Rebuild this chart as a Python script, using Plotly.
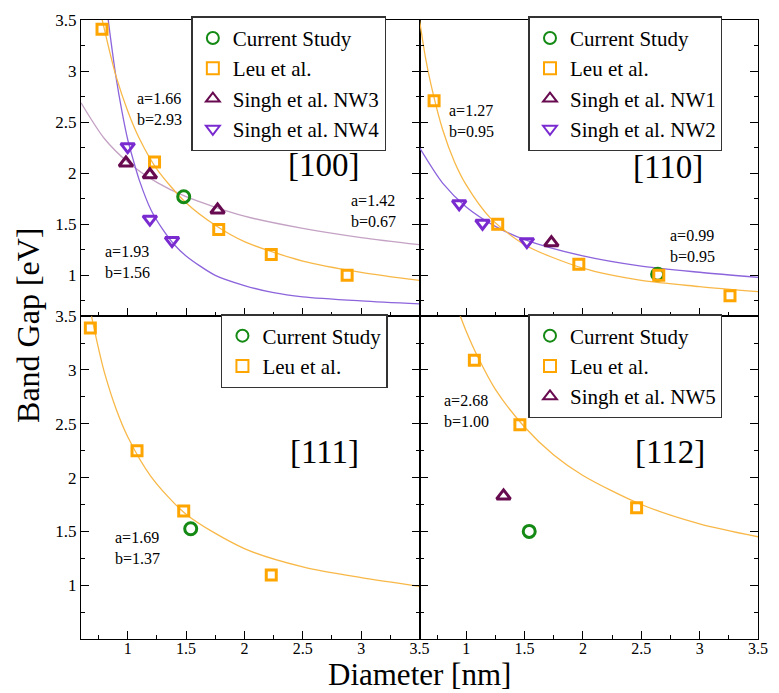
import plotly.graph_objects as go

# ---------------- data ----------------
# [100]
cur100_d = [1.48]
cur100_e = [1.77]
leu100_d = [0.78, 1.23, 1.78, 2.23, 2.88]
leu100_e = [3.41, 2.11, 1.45, 1.205, 1.00]
nw3_d = [0.985, 1.19, 1.77]
nw3_e = [2.10, 1.985, 1.64]
nw4_d = [1.00, 1.19, 1.38]
nw4_e = [2.26, 1.55, 1.34]
fit100_leu_d = [0.78, 0.85, 0.9, 1.0, 1.1, 1.25, 1.5, 1.75, 2.0, 2.5, 3.0, 3.5]
fit100_leu_e = [3.51, 3.17, 2.95, 2.61, 2.34, 2.04, 1.71, 1.49, 1.33, 1.14, 1.03, 0.95]
fit100_nw3_d = [0.6, 0.8, 1.0, 1.25, 1.5, 2.0, 2.5, 3.0, 3.5]
fit100_nw3_e = [2.69, 2.34, 2.11, 1.91, 1.77, 1.58, 1.46, 1.37, 1.30]
fit100_nw4_d = [0.83, 0.85, 0.9, 0.95, 1.0, 1.05, 1.1, 1.2, 1.3, 1.4, 1.5, 1.75, 2.0, 2.25, 2.5, 3.0, 3.5]
fit100_nw4_e = [3.53, 3.35, 2.94, 2.61, 2.33, 2.12, 1.93, 1.64, 1.45, 1.30, 1.19, 1.00, 0.90, 0.83, 0.79, 0.75, 0.72]

# [110]
cur110_d = [2.64]
cur110_e = [1.01]
leu110_d = [0.725, 1.27, 1.965, 2.65, 3.26]
leu110_e = [2.71, 1.50, 1.108, 1.00, 0.80]
nw1_d = [1.73]
nw1_e = [1.32]
nw2_d = [0.94, 1.14, 1.52]
nw2_e = [1.70, 1.51, 1.33]
fit110_leu_d = [0.6, 0.65, 0.7, 0.8, 0.9, 1.0, 1.2, 1.5, 2.0, 2.5, 3.0, 3.5]
fit110_leu_e = [3.50, 3.14, 2.86, 2.42, 2.11, 1.885, 1.57, 1.30, 1.07, 0.95, 0.89, 0.84]
fit110_nw_d = [0.6, 0.8, 1.0, 1.25, 1.5, 2.0, 2.5, 3.0, 3.5]
fit110_nw_e = [2.25, 1.90, 1.67, 1.48, 1.35, 1.19, 1.09, 1.03, 0.98]

# [111]
cur111_d = [1.54]
cur111_e = [1.525]
leu111_d = [0.68, 1.08, 1.48, 2.23]
leu111_e = [3.39, 2.25, 1.69, 1.095]
fit111_leu_d = [0.69, 0.75, 0.8, 0.9, 1.0, 1.2, 1.5, 2.0, 2.5, 3.0, 3.5]
fit111_leu_e = [3.50, 3.20, 2.98, 2.64, 2.38, 2.01, 1.66, 1.34, 1.17, 1.07, 0.99]

# [112]
cur112_d = [1.54]
cur112_e = [1.50]
leu112_d = [1.07, 1.46, 2.46]
leu112_e = [3.09, 2.49, 1.72]
nw5_d = [1.32]
nw5_e = [1.83]
fit112_leu_d = [0.92, 0.95, 1.0, 1.1, 1.25, 1.5, 1.75, 2.0, 2.5, 3.0, 3.5]
fit112_leu_e = [3.59, 3.50, 3.36, 3.12, 2.82, 2.47, 2.21, 2.02, 1.75, 1.57, 1.45]

x_ticks = [1, 1.5, 2, 2.5, 3, 3.5]
y_ticks = [1, 1.5, 2, 2.5, 3, 3.5]

# fit parameter labels: (a-line, b-line, axis pair, x, y)
fit_labels = [
    ("a=1.66", "b=2.93", "x", "y", 1.063, 2.63),
    ("a=1.42", "b=0.67", "x", "y", 2.90, 1.63),
    ("a=1.93", "b=1.56", "x", "y", 0.79, 1.13),
    ("a=1.27", "b=0.95", "x2", "y2", 0.835, 2.51),
    ("a=0.99", "b=0.95", "x2", "y2", 2.73, 1.29),
    ("a=1.69", "b=1.37", "x3", "y3", 0.877, 1.345),
    ("a=2.68", "b=1.00", "x4", "y4", 0.79, 2.62),
]

# ---------------- styles ----------------
GREEN = "#148a14"
ORANGE = "#ffa500"
MAROON = "#680a50"
VIOLET = "#7a2bd0"
FONT = "Liberation Serif, Times New Roman, serif"

def fit_line(x, y, xa, ya, color):
    return go.Scatter(x=x, y=y, xaxis=xa, yaxis=ya, mode="lines",
                      line=dict(color=color, width=1.3, shape="spline", smoothing=0.8),
                      showlegend=False, hoverinfo="skip")

def pts(x, y, xa, ya, name, symbol, color, size, legend):
    return go.Scatter(x=x, y=y, xaxis=xa, yaxis=ya, mode="markers", name=name,
                      legend=legend,
                      marker=dict(symbol=symbol, size=size, color=color,
                                  line=dict(width=3, color=color)))

fig = go.Figure()
# fit curves
fig.add_trace(fit_line(fit100_nw3_d, fit100_nw3_e, "x", "y", "#c4a2c4"))
fig.add_trace(fit_line(fit100_nw4_d, fit100_nw4_e, "x", "y", "#8c64dc"))
fig.add_trace(fit_line(fit100_leu_d, fit100_leu_e, "x", "y", "#f8b848"))
fig.add_trace(fit_line(fit110_nw_d, fit110_nw_e, "x2", "y2", "#8c64dc"))
fig.add_trace(fit_line(fit110_leu_d, fit110_leu_e, "x2", "y2", "#f8b848"))
fig.add_trace(fit_line(fit111_leu_d, fit111_leu_e, "x3", "y3", "#f8b848"))
fig.add_trace(fit_line(fit112_leu_d, fit112_leu_e, "x4", "y4", "#f8b848"))

# markers
fig.add_trace(pts(cur100_d, cur100_e, "x", "y", "Current Study", "circle-open", GREEN, 12, "legend"))
fig.add_trace(pts(leu100_d, leu100_e, "x", "y", "Leu et al.", "square-open", ORANGE, 10, "legend"))
fig.add_trace(pts(nw3_d, nw3_e, "x", "y", "Singh et al. NW3", "triangle-up-open", MAROON, 12, "legend"))
fig.add_trace(pts(nw4_d, nw4_e, "x", "y", "Singh et al. NW4", "triangle-down-open", VIOLET, 12, "legend"))

fig.add_trace(pts(cur110_d, cur110_e, "x2", "y2", "Current Study", "circle-open", GREEN, 12, "legend2"))
fig.add_trace(pts(leu110_d, leu110_e, "x2", "y2", "Leu et al.", "square-open", ORANGE, 10, "legend2"))
fig.add_trace(pts(nw1_d, nw1_e, "x2", "y2", "Singh et al. NW1", "triangle-up-open", MAROON, 12, "legend2"))
fig.add_trace(pts(nw2_d, nw2_e, "x2", "y2", "Singh et al. NW2", "triangle-down-open", VIOLET, 12, "legend2"))

fig.add_trace(pts(cur111_d, cur111_e, "x3", "y3", "Current Study", "circle-open", GREEN, 12, "legend3"))
fig.add_trace(pts(leu111_d, leu111_e, "x3", "y3", "Leu et al.", "square-open", ORANGE, 10, "legend3"))

fig.add_trace(pts(cur112_d, cur112_e, "x4", "y4", "Current Study", "circle-open", GREEN, 12, "legend4"))
fig.add_trace(pts(leu112_d, leu112_e, "x4", "y4", "Leu et al.", "square-open", ORANGE, 10, "legend4"))
fig.add_trace(pts(nw5_d, nw5_e, "x4", "y4", "Singh et al. NW5", "triangle-up-open", MAROON, 12, "legend4"))

YSPLIT = 0.5215

def xax(domain, labels, anchor):
    return dict(domain=domain, range=[0.6, 3.5], anchor=anchor,
                tickmode="array", tickvals=x_ticks, showticklabels=labels,
                ticks="inside", ticklen=8, tickwidth=1, tickcolor="black",
                ticklabelstandoff=-5,
                minor=dict(ticks="inside", ticklen=4, tickwidth=1, tickcolor="black",
                           tickmode="linear", tick0=0, dtick=0.25),
                showline=True, linecolor="black", linewidth=1, mirror=True,
                showgrid=False, zeroline=False,
                tickfont=dict(family=FONT, size=16, color="black"))

def yax(domain, rng, labels, anchor):
    return dict(domain=domain, range=rng, anchor=anchor,
                tickmode="array", tickvals=y_ticks, showticklabels=labels,
                ticks="inside", ticklen=8, tickwidth=1, tickcolor="black",
                minor=dict(ticks="inside", ticklen=4, tickwidth=1, tickcolor="black",
                           tickmode="linear", tick0=0, dtick=0.25),
                showline=True, linecolor="black", linewidth=1, mirror="ticks",
                showgrid=False, zeroline=False,
                tickfont=dict(family=FONT, size=17, color="black"))

def leg(x, y):
    return dict(x=x, y=y, xanchor="left", yanchor="top", xref="paper", yref="paper",
                bgcolor="white", bordercolor="#333333", borderwidth=1.5,
                font=dict(family=FONT, size=21, color="black"),
                itemsizing="constant", traceorder="normal", tracegroupgap=0)

fig.update_layout(
    width=779, height=693,
    margin=dict(l=81, r=11, t=12, b=54),
    paper_bgcolor="white", plot_bgcolor="white",
    font=dict(family=FONT, color="black"),
    xaxis=xax([0, 0.5], False, "y"),
    yaxis=yax([YSPLIT, 1], [0.6, 3.5], True, "x"),
    xaxis2=xax([0.5, 1], False, "y2"),
    yaxis2=yax([YSPLIT, 1], [0.6, 3.5], False, "x2"),
    xaxis3=xax([0, 0.5], True, "y3"),
    yaxis3=yax([0, YSPLIT], [0.5, 3.5], True, "x3"),
    xaxis4=xax([0.5, 1], True, "y4"),
    yaxis4=yax([0, YSPLIT], [0.5, 3.5], False, "x4"),
    legend=leg(0.163, 1.006),
    legend2=leg(0.661, 1.006),
    legend3=leg(0.2067, 0.525),
    legend4=leg(0.661, 0.525),
)

def ann(text, x, y, xr, yr, size, xanchor="center", align="center"):
    return dict(text=text, x=x, y=y, xref=xr, yref=yr, showarrow=False,
                xanchor=xanchor, yanchor="middle", align=align,
                font=dict(family=FONT, size=size, color="black"))

annotations = [
    ann("[100]", 2.68, 2.08, "x", "y", 33),
    ann("[110]", 2.73, 2.06, "x2", "y2", 33),
    ann("[111]", 2.69, 2.24, "x3", "y3", 33),
    ann("[112]", 2.75, 2.24, "x4", "y4", 33),
]
for a_txt, b_txt, xr, yr, lx, ly in fit_labels:
    annotations.append(ann(a_txt + "<br>" + b_txt, lx, ly, xr, yr, 16, "left", "left"))

annotations += [
    dict(text="Band Gap [eV]", x=-0.0786, y=0.507, xref="paper", yref="paper",
         showarrow=False, textangle=-90, xanchor="center", yanchor="middle",
         font=dict(family=FONT, size=32, color="black")),
    dict(text="Diameter [nm]", x=0.5007, y=-0.0574, xref="paper", yref="paper",
         showarrow=False, xanchor="center", yanchor="middle",
         font=dict(family=FONT, size=31, color="black")),
]
fig.update_layout(annotations=annotations)

fig.write_html("out.html")
